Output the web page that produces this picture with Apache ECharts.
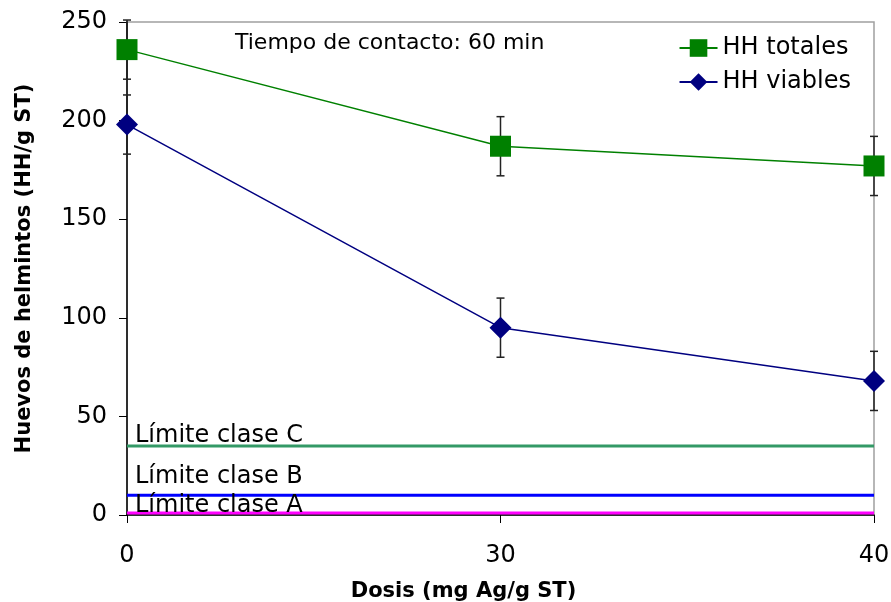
<!DOCTYPE html>
<html>
<head>
<meta charset="utf-8">
<script src="https://cdn.jsdelivr.net/npm/echarts@6/dist/echarts.min.js"></script>
<style>html,body{margin:0;padding:0;background:#fff}#c{width:891px;height:602px}</style>
</head>
<body>
<div id="c"></div>
<script>
var categories = ['0', '30', '40'];
var totales = [236, 187, 177];
var totalesErr = [15, 15, 15];
var viables = [198, 95, 68];
var viablesErr = [15, 15, 15];
var limitNames = ['Límite clase C', 'Límite clase B', 'Límite clase A'];
var limitValues = [35, 10, 1];
var limitColors = ['#339966', '#0000FF', '#FF00FF'];
var limitLabelOffsets = [2, -7, 5];
var yTicks = [0, 50, 100, 150, 200, 250];

var FONT = 'DejaVu Sans';
var chart = echarts.init(document.getElementById('c'), null, {renderer: 'canvas'});

function errSeries(vals, errs) {
  var data = vals.map(function (v, i) { return [i, v - errs[i], v + errs[i]]; });
  return {
    type: 'custom',
    z: 1,
    silent: true,
    data: data,
    renderItem: function (params, api) {
      var x = api.value(0);
      var lo = api.coord([x, api.value(1)]);
      var hi = api.coord([x, api.value(2)]);
      var w = 4;
      var st = {stroke: '#222', lineWidth: 1.5};
      return {
        type: 'group',
        children: [
          {type: 'line', shape: {x1: lo[0], y1: lo[1], x2: hi[0], y2: hi[1]}, style: st},
          {type: 'line', shape: {x1: lo[0] - w, y1: lo[1], x2: lo[0] + w, y2: lo[1]}, style: st},
          {type: 'line', shape: {x1: hi[0] - w, y1: hi[1], x2: hi[0] + w, y2: hi[1]}, style: st}
        ]
      };
    }
  };
}

var series = [];
limitValues.forEach(function (v, i) {
  series.push({
    type: 'line',
    name: limitNames[i],
    data: categories.map(function () { return v; }),
    symbol: 'none',
    lineStyle: {color: limitColors[i], width: 3},
    z: 2,
    silent: true
  });
  series.push({
    type: 'scatter',
    data: [[0, v]],
    symbolSize: 0,
    silent: true,
    z: 3,
    itemStyle: {opacity: 1},
    label: {
      show: true,
      formatter: limitNames[i],
      position: [8, limitLabelOffsets[i]],
      align: 'left',
      verticalAlign: 'bottom',
      fontFamily: FONT,
      fontSize: 24,
      color: '#000',
      opacity: 1
    }
  });
});
series.push(errSeries(totales, totalesErr));
series.push(errSeries(viables, viablesErr));
series.push({
  type: 'line', name: 'HH totales', data: totales,
  symbol: 'rect', symbolSize: 21,
  itemStyle: {color: '#008000'},
  lineStyle: {color: '#008000', width: 1.5},
  z: 5
});
series.push({
  type: 'line', name: 'HH viables', data: viables,
  symbol: 'diamond', symbolSize: 22,
  itemStyle: {color: '#000080'},
  lineStyle: {color: '#000080', width: 1.5},
  z: 5
});

chart.setOption({
  animation: false,
  backgroundColor: '#fff',
  textStyle: {fontFamily: FONT},
  grid: {left: 127, right: 17, top: 22, bottom: 87, show: true, borderColor: '#a0a0a0', borderWidth: 1.5,
    containLabel: false, outerBoundsMode: 'none'},
  legend: {
    data: ['HH totales', 'HH viables'],
    orient: 'vertical',
    right: 35, top: 31,
    itemWidth: 38, itemHeight: 22, itemGap: 10,
    textStyle: {fontFamily: FONT, fontSize: 24, color: '#000'}
  },
  graphic: [{
    type: 'text', left: 235, top: 32,
    style: {text: 'Tiempo de contacto: 60 min', fontFamily: FONT, fontSize: 22, fill: '#000'}
  }],
  xAxis: {
    type: 'category', data: categories, boundaryGap: false,
    name: 'Dosis (mg Ag/g ST)', nameLocation: 'middle', nameGap: 66,
    nameTextStyle: {fontFamily: FONT, fontSize: 21, fontWeight: 'bold', color: '#000', padding: [0, 74, 0, 0]},
    axisLine: {lineStyle: {color: '#000', width: 1.5}},
    axisTick: {show: true, length: 8, alignWithLabel: true, lineStyle: {color: '#000'}},
    axisLabel: {fontFamily: FONT, fontSize: 24, color: '#000', margin: 29},
    splitLine: {show: false}
  },
  yAxis: {
    type: 'value', min: 0, max: 250, interval: 50,
    name: 'Huevos de helmintos (HH/g ST)', nameLocation: 'middle', nameGap: 92, nameRotate: 90,
    nameTextStyle: {fontFamily: FONT, fontSize: 21, fontWeight: 'bold', color: '#000'},
    axisLine: {show: true, lineStyle: {color: '#000', width: 1.5}},
    axisTick: {show: true, length: 8, lineStyle: {color: '#000'}},
    axisLabel: {fontFamily: FONT, fontSize: 24, color: '#000', margin: 20,
      formatter: function (v) { return yTicks.indexOf(v) >= 0 ? String(v) : ''; }},
    splitLine: {show: false}
  },
  series: series
});
</script>
</body>
</html>
